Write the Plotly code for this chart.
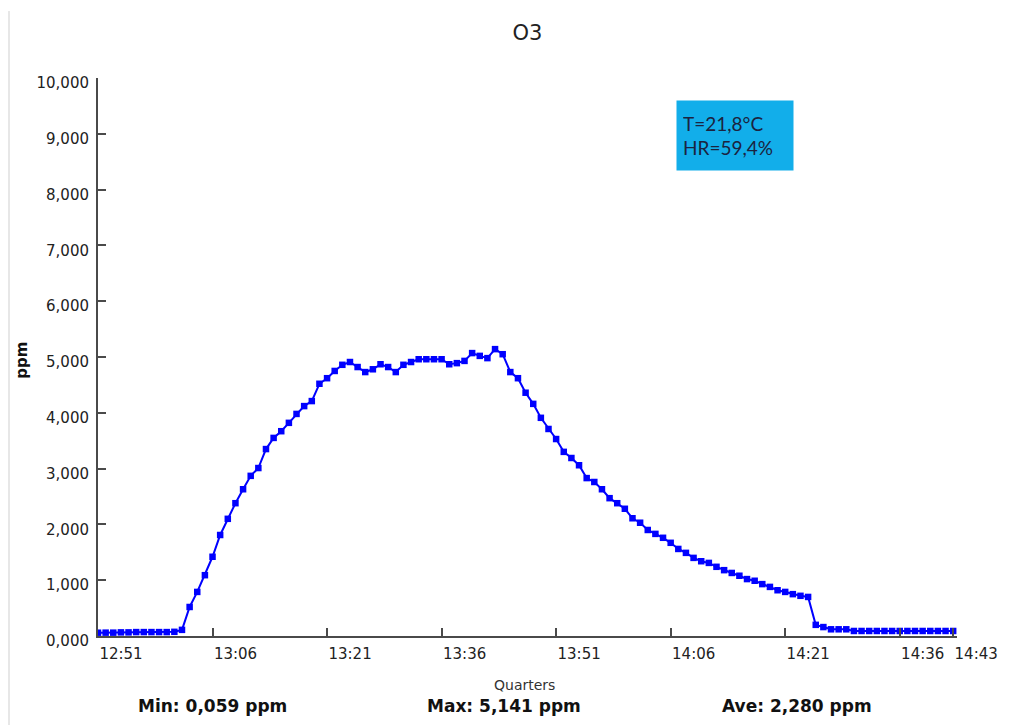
import pandas as pd
import plotly.graph_objects as go

# ---------------- data ----------------
start_time = "2020-01-01 12:51"
o3_ppm = [
    0.059, 0.060, 0.060, 0.065, 0.065, 0.070, 0.070, 0.070, 0.070, 0.070, 0.075,
    0.11, 0.52, 0.79, 1.09, 1.42, 1.81, 2.10, 2.38, 2.63, 2.87,
    3.01, 3.35, 3.55, 3.67, 3.82, 3.98, 4.12, 4.21, 4.52, 4.62,
    4.75, 4.86, 4.91, 4.82, 4.73, 4.78, 4.87, 4.82, 4.73, 4.86,
    4.91, 4.96, 4.96, 4.96, 4.96, 4.87, 4.89, 4.93, 5.07, 5.02,
    4.98, 5.141, 5.05, 4.73, 4.62, 4.36, 4.16, 3.91, 3.71, 3.53,
    3.30, 3.19, 3.06, 2.83, 2.76, 2.63, 2.47, 2.38, 2.28, 2.11,
    2.03, 1.90, 1.83, 1.76, 1.67, 1.56, 1.49, 1.40, 1.34, 1.31,
    1.24, 1.18, 1.13, 1.08, 1.02, 0.99, 0.93, 0.88, 0.82, 0.79,
    0.75, 0.72, 0.70, 0.20, 0.16, 0.12, 0.12, 0.12, 0.09, 0.09,
    0.09, 0.09, 0.09, 0.09, 0.09, 0.09, 0.09, 0.09, 0.09, 0.09,
    0.09, 0.09,
]
times = pd.date_range(start_time, periods=len(o3_ppm), freq="1min")

x_tick_labels = ["12:51", "13:06", "13:21", "13:36", "13:51", "14:06", "14:21", "14:36", "14:43"]
x_tick_vals = ["2020-01-01 " + t for t in x_tick_labels]
y_tick_vals = [0, 1, 2, 3, 4, 5, 6, 7, 8, 9, 10]

stats_labels = ["Min: 0,059 ppm", "Max: 5,141 ppm", "Ave: 2,280 ppm"]
stats_x = [0.133, 0.473, 0.814]
conditions_lines = ["T=21,8°C", "HR=59,4%"]

chart_title = "O3"
y_title = "ppm"
x_title = "Quarters"

# ---------------- figure ----------------
axis_col = "#4a4a4a"
font_main = "DejaVu Sans, Verdana, sans-serif"

fig = go.Figure()
fig.add_trace(go.Scatter(
    x=times, y=o3_ppm, mode="lines+markers",
    line=dict(color="#0000FF", width=2),
    marker=dict(color="#0000FF", symbol="square", size=6.5),
    showlegend=False, hoverinfo="x+y",
))

annotations = []
for txt, xp in zip(stats_labels, stats_x):
    annotations.append(dict(
        text=f"<b>{txt}</b>", x=xp, y=-0.1254, xref="paper", yref="paper",
        showarrow=False, xanchor="center", yanchor="middle",
        font=dict(family=font_main, size=17, color="#111"),
    ))
annotations.append(dict(
    text=f"<b>{y_title}</b>", x=-0.0885, y=0.495, xref="paper", yref="paper",
    showarrow=False, textangle=-90, xanchor="center", yanchor="middle",
    font=dict(family=font_main, size=15, color="#111"),
))
annotations.append(dict(
    text=x_title, x=0.497, y=-0.0878, xref="paper", yref="paper",
    showarrow=False, xanchor="center", yanchor="middle",
    font=dict(family=font_main, size=14, color="#333"),
))
annotations.append(dict(
    text="<br>".join(conditions_lines), x=0.7416, y=0.897, xref="paper", yref="paper",
    showarrow=False, xanchor="center", yanchor="middle", align="left",
    width=104, height=57, bgcolor="#12AEEA", borderpad=6,
    font=dict(family="Lato, Open Sans, sans-serif", size=19, color="#1b2340"),
))

fig.update_layout(
    width=1010, height=717,
    margin=dict(l=90, r=61, t=70, b=89),
    paper_bgcolor="white", plot_bgcolor="white",
    separators=",.",
    title=dict(text=chart_title, x=0.5, xref="paper", y=0.966, yref="container",
               xanchor="center", yanchor="middle",
               font=dict(family=font_main, size=21, color="#222")),
    annotations=annotations,
    shapes=[dict(type="line", xref="paper", yref="paper",
                 x0=-0.1036, x1=-0.1036, y0=1.12, y1=-0.16,
                 line=dict(color="#cfcfcf", width=1))],
)
fig.update_xaxes(
    type="date", range=["2020-01-01 12:51", "2020-01-01 14:43:30"],
    tickvals=x_tick_vals, ticktext=x_tick_labels,
    showgrid=False, zeroline=False, showline=True, linecolor=axis_col, linewidth=2,
    ticks="inside", ticklen=8, tickwidth=2, tickcolor=axis_col,
    ticklabelshift=23, ticklabelstandoff=3,
    tickfont=dict(family=font_main, size=15, color="#222"),
)
fig.update_yaxes(
    range=[0, 10], tickvals=y_tick_vals, tickformat=".3f",
    showgrid=False, zeroline=False, showline=True, linecolor=axis_col, linewidth=2,
    ticks="inside", ticklen=8, tickwidth=2, tickcolor=axis_col,
    ticklabelshift=5, ticklabelstandoff=4,
    tickfont=dict(family=font_main, size=15, color="#222"),
)

fig.write_html("out.html")
